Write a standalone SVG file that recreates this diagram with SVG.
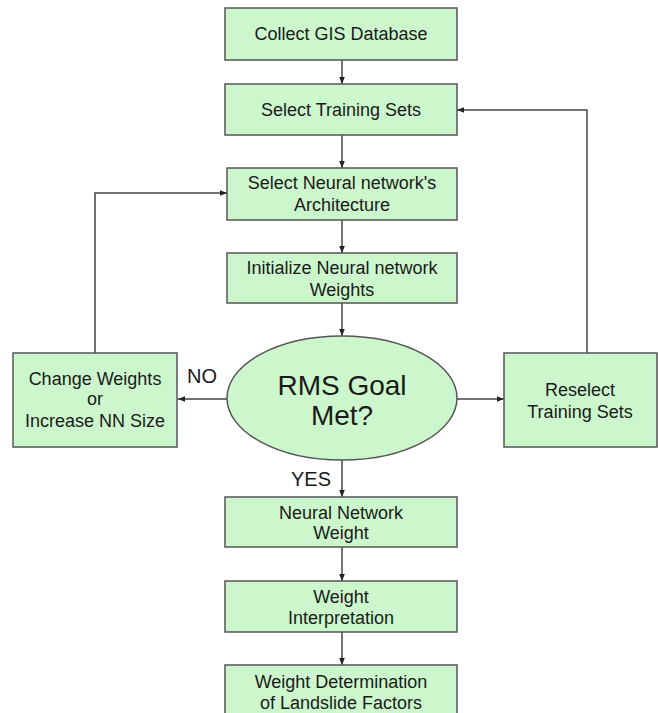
<svg xmlns="http://www.w3.org/2000/svg" width="658" height="713" viewBox="0 0 658 713">
<defs>
<marker id="arr" viewBox="0 0 10 10" refX="10" refY="5" markerWidth="7" markerHeight="7" orient="auto" markerUnits="userSpaceOnUse">
<path d="M0,1 L10,5 L0,9 Z" fill="#222"/>
</marker>
<style>
.box{fill:#ccf7cc;stroke:#555;stroke-width:1.5}
.t{font-family:"Liberation Sans",Arial,sans-serif;font-size:18px;fill:#1a1a1a;text-anchor:middle;dominant-baseline:central}
.c{fill:none;stroke:#444;stroke-width:1.5}
</style>
</defs>
<rect width="658" height="713" fill="#fff"/>
<g id="connectors">
<line class="c" x1="342" y1="60" x2="342" y2="84" marker-end="url(#arr)"/>
<line class="c" x1="342" y1="135" x2="342" y2="168" marker-end="url(#arr)"/>
<line class="c" x1="342" y1="220" x2="342" y2="253" marker-end="url(#arr)"/>
<line class="c" x1="342" y1="303" x2="342" y2="336" marker-end="url(#arr)"/>
<line class="c" x1="227" y1="399" x2="178" y2="399" marker-end="url(#arr)"/>
<line class="c" x1="457" y1="399" x2="504" y2="399" marker-end="url(#arr)"/>
<polyline class="c" points="95,353 95,193 227,193" marker-end="url(#arr)"/>
<polyline class="c" points="587,353 587,110 457,110" marker-end="url(#arr)"/>
<line class="c" x1="342" y1="460" x2="342" y2="497" marker-end="url(#arr)"/>
<line class="c" x1="342" y1="547" x2="342" y2="581" marker-end="url(#arr)"/>
<line class="c" x1="342" y1="632" x2="342" y2="665" marker-end="url(#arr)"/>
<text class="t" x="202" y="376" style="font-size:20px">NO</text>
<text class="t" x="311" y="479" style="font-size:20px">YES</text>
</g>
<g id="collect">
<rect class="box" x="225" y="8" width="232" height="52"/>
<text class="t" x="341" y="34">Collect GIS Database</text>
</g>
<g id="select-training">
<rect class="box" x="225" y="84" width="232" height="51"/>
<text class="t" x="341" y="110">Select Training Sets</text>
</g>
<g id="select-arch">
<rect class="box" x="227" y="168" width="230" height="52"/>
<text class="t" x="342" y="183">Select Neural network's</text>
<text class="t" x="342" y="205">Architecture</text>
</g>
<g id="init">
<rect class="box" x="227" y="253" width="230" height="50"/>
<text class="t" x="342" y="268">Initialize Neural network</text>
<text class="t" x="342" y="290">Weights</text>
</g>
<g id="rms">
<ellipse class="box" cx="342" cy="398" rx="115" ry="62"/>
<text class="t" x="342" y="385" style="font-size:28px">RMS Goal</text>
<text class="t" x="342" y="415" style="font-size:28px">Met?</text>
</g>
<g id="change">
<rect class="box" x="13" y="353" width="164" height="94"/>
<text class="t" x="95" y="379">Change Weights</text>
<text class="t" x="95" y="399">or</text>
<text class="t" x="95" y="421">Increase NN Size</text>
</g>
<g id="reselect">
<rect class="box" x="504" y="353" width="153" height="94"/>
<text class="t" x="580" y="390">Reselect</text>
<text class="t" x="580" y="412">Training Sets</text>
</g>
<g id="nn-weight">
<rect class="box" x="225" y="497" width="232" height="50"/>
<text class="t" x="341" y="513">Neural Network</text>
<text class="t" x="341" y="533">Weight</text>
</g>
<g id="interp">
<rect class="box" x="225" y="581" width="232" height="51"/>
<text class="t" x="341" y="597">Weight</text>
<text class="t" x="341" y="618">Interpretation</text>
</g>
<g id="determ">
<rect class="box" x="225" y="665" width="232" height="60"/>
<text class="t" x="341" y="682">Weight Determination</text>
<text class="t" x="341" y="703">of Landslide Factors</text>
</g>
</svg>
